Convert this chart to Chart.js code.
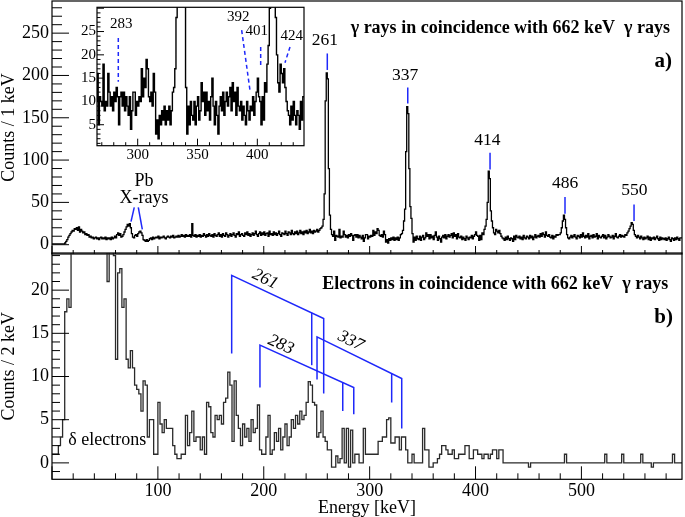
<!DOCTYPE html>
<html><head><meta charset="utf-8">
<script src="https://cdn.jsdelivr.net/npm/chart.js@4.4.1/dist/chart.umd.min.js"></script>
<style>
html,body{margin:0;padding:0;background:#fff;}
#wrap{position:relative;width:685px;height:517px;overflow:hidden;background:#fff;}
canvas{position:absolute;}
</style></head><body>
<div id="wrap">
<canvas id="top" width="685" height="258" style="left:0;top:0"></canvas>
<canvas id="bot" width="685" height="277" style="left:0;top:240px"></canvas>
<canvas id="ins" width="255" height="170" style="left:55px;top:0"></canvas>
</div>
<script>
// ---------------- DATA ----------------
// gamma spectrum, 1 keV bins starting at 0 keV
const topBinStart = 0, topBinWidth = 1;
const topCounts = [
1,1,1,1,1,1,1,1,1,1, 1,1,1,2,4,6,9,11,13,15, 17,16,19,18,20,17,21,15,18,16, 14,15,12,13,11,12,9,10,8,9,
7,8,9,7,8,6,8,9,7,8, 7,9,6,8,7,8,6,9,7,8, 10,8,12,14,11,13,9,10,12,15, 18,21,24,22,25,20,13,9,8,11,
12,10,13,15,16,14,11,6,5,4, 6,4,5,7,8,6,9,7,8,9, 8,10,7,9,8,9,10,8,7,9, 10,9,8,10,9,11,8,9,10,9,
11,9,10,12,10,11,9,12,10,11, 10,12,9,25,11,10,12,9,11,10, 12,9,11,10,13,11,9,12,10,13, 11,10,12,9,13,11,10,12,14,10,
12,9,13,11,10,14,12,9,11,13, 10,12,14,11,9,13,12,15,10,12, 13,11,10,14,12,15,11,13,10,12, 14,11,13,16,12,10,13,15,11,14,
12,15,11,13,14,10,16,12,13,11, 15,12,14,11,13,16,12,10,14,13, 12,16,13,11,15,14,12,17,13,12, 15,13,16,12,14,17,13,15,12,16,
14,17,13,15,18,14,16,13,17,15, 16,18,15,17,19,20,22,30,60,170, 203,196,90,35,18,12,10,16,5,11, 10,9,18,8,10,9,16,12,9,11,
8,12,10,13,11,5,11,12,9,12, 8,11,9,7,11,4,8,12,12,7, 10,9,11,10,17,11,15,13,19,17, 11,10,12,9,16,12,3,6,2,7,
5,8,6,9,5,8,6,9,5,8, 12,13,17,28,42,110,163,155,90,45, 31,13,3,9,5,10,7,6,10,5, 9,11,6,8,14,10,12,7,12,8,
10,6,11,15,9,5,10,7,3,9, 11,8,12,7,10,12,9,11,13,8, 14,10,12,7,13,9,8,10,6,9, 7,5,10,8,6,9,8,11,7,10,
12,15,11,10,5,11,6,14,12,18, 22,30,50,87,78,40,28,20,14,12, 18,16,14,17,13,10,8,7,5,9, 6,10,7,5,8,7,4,10,6,11,
9,8,10,7,9,6,11,8,7,10, 9,7,11,8,10,6,9,12,8,10, 11,9,13,10,14,12,9,15,11,10, 12,9,8,11,7,10,9,12,11,12,
12,14,20,28,35,30,20,12,8,7, 9,11,8,10,12,9,7,11,10,8, 12,9,14,10,8,11,9,13,7,10, 11,8,12,9,10,13,7,11,9,8,
10,12,8,11,7,9,12,10,8,9, 11,7,10,13,9,8,10,12,9,11, 10,9,12,11,14,16,19,22,26,24, 17,12,10,8,11,9,7,10,8,6,
9,7,8,10,6,9,5,8,7,9, 6,8,10,7,5,9,6,8,7,6, 8,5,7,9,6,4,8,7,5,8, 6,9,7,5,8
];
// electron spectrum, 2 keV bins starting at 0 keV
const botBinStart = 0, botBinWidth = 2;
const botCounts = [
1,1,1,1,2,3,5,17.5,19,18, 30,36,42,48,55,58,60,57,52,48, 44,40,36,33,30,28,26,21,28,26,
24,12,22,22.5,18,19,12,11,13,11, 9,8.5,8,6,9.5,9,3,5,5,1, 1,7,4.5,3.5,5,4,4,4,2,1,
0.5,0.5,1,1,5.5,2,3.5,6,2.5,3, 3,1.5,3,1,7,6.5,3.5,3,5.5,5, 5.5,4.5,7,7.5,10.5,9,2.5,9.5,5.5,4,
2,4.5,3,4,2.5,5,3.5,4,6.7,1.5, 1,1,3,5.5,1,1.5,3.5,2.5,4,1.5, 3,4.5,2,3,5,4,5.5,4.5,6,5,
5.5,7,9.4,9,7,6.7,3,3.5,6,3, 2.5,1.5,1.5,-0.5,-0.5,0.8,0,0.5,4,0, 4,-0.5,3.8,0,1,1,0,0,4,1,
1,1,1,1,1,2.5,2.5,3,3,5, 5.2,2.3,2.3,3,3,1.5,3,3,1.5,0, 0,1,0,0,0,0,4,1.5,1.5,-0.5,
-0.5,0,0,0.5,1,2,2,1.5,1,1, 1.5,0.5,0.5,1,1,1,2,2,0.5,0.5, 1.5,1.5,1,1,0.5,1,1,0.5,1,1.5,
1.5,0.5,1.5,1.5,0,0,0,0,0,0, 0,0,0,0,0,0,-0.5,0,0,0, 0,0,0,0,0,0,0,0,0,0,
0,0,0,1,0,0,0,0,0,0, 0,0,0,0,0,0,0,0,0,0, 0,0,1,0,0,0,0,0,0,0,
1,0,0,0,0,0,0,0,0,1, 0,0,0,0,-0.5,0,0,0,0,0, 0,0,0,0,1,0,0,0
];
// tick labels
const energyTicks = [100, 200, 300, 400, 500];
const topCountTicks = [0, 50, 100, 150, 200, 250];
const botCountTicks = [0, 5, 10, 15, 20];
const insetEnergyTicks = [300, 350, 400];
const insetCountTicks = [5, 10, 15, 20, 25];
// peak labels (keV)
const gammaPeakNames = ['261', '337', '414', '486', '550'];
const insetPeakNames = ['283', '392', '401', '424'];

// ---------------- helpers ----------------
function histPoints(start, width, counts) {
  const pts = counts.map((c, i) => ({x: start + i * width, y: c}));
  pts.push({x: start + counts.length * width, y: counts[counts.length - 1]});
  return pts;
}
const SERIF = '"Liberation Serif", "Times New Roman", serif';
const BLUE = 'rgb(30,40,250)';

const decor = {
  id: 'decor',
  beforeDraw(chart, args, o) {
    if (o.whiteArea) {
      const a = chart.chartArea, c = chart.ctx;
      c.save(); c.fillStyle = '#fff';
      c.fillRect(a.left, a.top, a.right - a.left, a.bottom - a.top); c.restore();
    }
  },
  afterDraw(chart, args, o) {
    const c = chart.ctx, a = chart.chartArea, sx = chart.scales.x, sy = chart.scales.y;
    c.save();
    c.strokeStyle = '#000'; c.lineWidth = 1;
    (o.ticks || []).forEach(t => {
      for (let v = t.from; v <= t.to + 1e-9; v += t.step) {
        const r = v / t.major;
        const isMajor = Math.abs(r - Math.round(r)) < 1e-6;
        const len = isMajor ? t.majorLen : t.minorLen;
        c.beginPath();
        if (t.axis === 'x') {
          const px = sx.getPixelForValue(v);
          c.moveTo(px, a.bottom); c.lineTo(px, a.bottom - len);
        } else {
          const py = sy.getPixelForValue(v);
          c.moveTo(a.left, py); c.lineTo(a.left + len, py);
        }
        c.stroke();
      }
    });
    c.lineWidth = o.frameWidth || 1.2;
    c.strokeRect(a.left, a.top, a.right - a.left, a.bottom - a.top);
    (o.lines || []).forEach(l => {
      c.strokeStyle = l.color || BLUE; c.lineWidth = l.width || 1.5; c.setLineDash(l.dash || []);
      c.beginPath();
      l.pts.forEach((p, i) => {
        const X = sx.getPixelForValue(p[0]), Y = sy.getPixelForValue(p[1]);
        if (i) c.lineTo(X, Y); else c.moveTo(X, Y);
      });
      c.stroke();
    });
    c.setLineDash([]);
    (o.texts || []).forEach(t => {
      const X = sx.getPixelForValue(t.x), Y = sy.getPixelForValue(t.y);
      c.save(); c.translate(X, Y); if (t.rot) c.rotate(t.rot * Math.PI / 180);
      c.font = t.font; c.fillStyle = t.color || '#000';
      c.textAlign = t.align || 'center'; c.textBaseline = 'middle';
      c.fillText(t.text, 0, 0); c.restore();
    });
    c.restore();
  }
};

function noPad(s) { s.paddingTop = 0; s.paddingBottom = 0; s.paddingLeft = 0; s.paddingRight = 0; }
function yAxis(min, max, width, ticksArr, title, fontSize, pad) {
  return {
    type: 'linear', min: min, max: max,
    afterFit: s => { s.width = width; noPad(s); },
    afterBuildTicks: s => { s.ticks = ticksArr.map(v => ({value: v})); },
    grid: {display: false, drawTicks: false}, border: {display: false},
    ticks: {font: {family: SERIF, size: fontSize}, color: '#000', padding: pad, autoSkip: false},
    title: title ? {display: true, text: title, color: '#000', padding: 0,
      font: {family: SERIF, size: 18, lineHeight: 1}} : {display: false}
  };
}
function xAxis(min, max, height, ticksArr, title, fontSize, pad) {
  return {
    type: 'linear', min: min, max: max,
    afterFit: s => { s.height = height; noPad(s); },
    afterBuildTicks: s => { s.ticks = ticksArr.map(v => ({value: v})); },
    grid: {display: false, drawTicks: false}, border: {display: false},
    ticks: {font: {family: SERIF, size: fontSize}, color: '#000', padding: pad, autoSkip: false, maxRotation: 0},
    title: title ? {display: true, text: title, color: '#000', padding: 0,
      font: {family: SERIF, size: 18, lineHeight: 1}} : {display: false}
  };
}
function histDataset(pts, color, width) {
  return {data: pts, borderColor: color, borderWidth: width, pointRadius: 0,
          stepped: 'after', fill: false, tension: 0};
}
const common = {responsive: false, animation: false, devicePixelRatio: 1, parsing: false,
  plugins: {legend: {display: false}, tooltip: {enabled: false}}};

// ---------------- top panel ----------------
const f18 = '18px ' + SERIF, f175 = '17.5px ' + SERIF;
new Chart(document.getElementById('top'), {
  type: 'line',
  data: {datasets: [histDataset(histPoints(topBinStart, topBinWidth, topCounts), '#000', 1.3)]},
  options: Object.assign({}, common, {
    layout: {padding: {left: 0, right: 3, top: 1, bottom: 4}},
    scales: {
      x: {type: 'linear', min: 0, max: 595, display: false},
      y: yAxis(-11, 288, 52, topCountTicks, 'Counts / 1 keV', 18, 3)
    },
    plugins: Object.assign({}, common.plugins, {decor: {
      ticks: [
        {axis: 'x', from: 0, to: 580, step: 20, major: 100, minorLen: 4, majorLen: 8},
        {axis: 'y', from: 0, to: 280, step: 10, major: 50, minorLen: 10, majorLen: 17}
      ],
      lines: [
        {pts: [[260, 226], [260, 206.5]]},
        {pts: [[336, 185.9], [336, 167]]},
        {pts: [[413.7, 108.7], [413.7, 89]]},
        {pts: [[484.5, 56.3], [484.5, 36.6]]},
        {pts: [[549.7, 47.6], [549.7, 28]]},
        {pts: [[77.7, 44.2], [74.6, 27.2]]},
        {pts: [[81.5, 44.2], [85.3, 18.2]]}
      ],
      texts: [
        {text: 'γ rays in coincidence with 662 keV  γ rays', x: 583.7, y: 256, align: 'right', font: 'bold 18px ' + SERIF},
        {text: 'a)', x: 585.6, y: 216, align: 'right', font: 'bold 21px ' + SERIF},
        {text: gammaPeakNames[0], x: 257.8, y: 242, font: f175},
        {text: gammaPeakNames[1], x: 333.4, y: 200.6, font: f175},
        {text: gammaPeakNames[2], x: 411.1, y: 123.8, font: f175},
        {text: gammaPeakNames[3], x: 484.5, y: 72.6, font: f175},
        {text: gammaPeakNames[4], x: 550, y: 63.8, font: f175},
        {text: 'Pb', x: 86.9, y: 75.3, font: f18},
        {text: 'X-rays', x: 86.9, y: 55.2, font: f18}
      ]
    }})
  }),
  plugins: [decor]
});

// ---------------- bottom panel ----------------
const fit = 'italic 17.5px ' + SERIF;
new Chart(document.getElementById('bot'), {
  type: 'line',
  data: {datasets: [histDataset(histPoints(botBinStart, botBinWidth, botCounts), '#2a2a2a', 1.3)]},
  options: Object.assign({}, common, {
    layout: {padding: {left: 0, right: 3, top: 13, bottom: 0}},
    scales: {
      x: xAxis(0, 595, 37.7, energyTicks, 'Energy [keV]', 18, 1),
      y: yAxis(-1.9, 24.3, 52, botCountTicks, 'Counts / 2 keV', 18, 3)
    },
    plugins: Object.assign({}, common.plugins, {decor: {
      ticks: [
        {axis: 'x', from: 0, to: 580, step: 20, major: 100, minorLen: 6, majorLen: 13},
        {axis: 'y', from: -1, to: 24, step: 1, major: 5, minorLen: 8, majorLen: 17}
      ],
      lines: [
        {pts: [[169.7, 12.67], [169.7, 21.71], [256.6, 16.72], [256.6, 8.04]]},
        {pts: [[245.3, 17.37], [245.3, 11.31]]},
        {pts: [[196.4, 8.73], [196.4, 13.63], [285, 8.73], [285, 5.64]]},
        {pts: [[274.6, 9.31], [274.6, 6.02]]},
        {pts: [[250.3, 9.66], [250.3, 14.59], [330.3, 9.77], [330.3, 3.98]]},
        {pts: [[320.8, 10.34], [320.8, 6.99]]}
      ],
      texts: [
        {text: 'Electrons in coincidence with 662 keV  γ rays', x: 582, y: 20.69, align: 'right', font: 'bold 18px ' + SERIF},
        {text: 'b)', x: 586.5, y: 16.87, align: 'right', font: 'bold 21px ' + SERIF},
        {text: 'δ electrons', x: 15.4, y: 2.63, align: 'left', font: f18},
        {text: gammaPeakNames[0], x: 201.2, y: 21.27, rot: 25.7, font: fit},
        {text: insetPeakNames[0], x: 216.1, y: 13.69, rot: 24.3, font: fit},
        {text: gammaPeakNames[1], x: 282.2, y: 14.11, rot: 26.2, font: fit}
      ]
    }})
  }),
  plugins: [decor]
});

// ---------------- inset ----------------
const f15 = '15px ' + SERIF;
new Chart(document.getElementById('ins'), {
  type: 'line',
  data: {datasets: [histDataset(histPoints(topBinStart, topBinWidth, topCounts), '#000', 1.4)]},
  options: Object.assign({}, common, {
    layout: {padding: {left: 0, right: 6, top: 7.3, bottom: 0}},
    scales: {
      x: xAxis(266, 439, 24.3, insetEnergyTicks, null, 15, 0),
      y: yAxis(0.5, 30.2, 42, insetCountTicks, null, 15, 1)
    },
    plugins: Object.assign({}, common.plugins, {decor: {
      whiteArea: true, frameWidth: 1.2,
      ticks: [
        {axis: 'x', from: 270, to: 430, step: 10, major: 50, minorLen: 3.5, majorLen: 7},
        {axis: 'y', from: 1, to: 30, step: 1, major: 5, minorLen: 3.5, majorLen: 7}
      ],
      lines: [
        {pts: [[283.8, 23.6], [283.8, 14.2]], dash: [4, 3]},
        {pts: [[386.9, 25.3], [393.9, 12.3]], dash: [4, 3]},
        {pts: [[402.8, 21.7], [402.8, 17.8]], dash: [4, 3]},
        {pts: [[427.3, 21.7], [423.1, 18.3]], dash: [4, 3]}
      ],
      texts: [
        {text: insetPeakNames[0], x: 286.3, y: 26.6, font: f15},
        {text: insetPeakNames[1], x: 384.1, y: 28, font: f15},
        {text: insetPeakNames[2], x: 399.5, y: 25.2, font: f15},
        {text: insetPeakNames[3], x: 428.7, y: 24.1, font: f15}
      ]
    }})
  }),
  plugins: [decor]
});
</script>
</body></html>
